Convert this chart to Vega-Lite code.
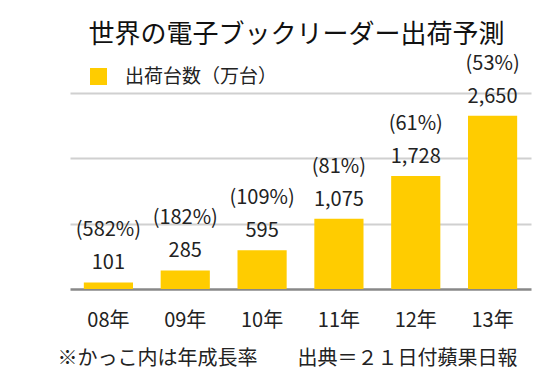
{
  "$schema": "https://vega.github.io/schema/vega-lite/v6.json",
  "width": 461,
  "height": 196,
  "autosize": {"type": "none"},
  "padding": {"left": 70, "top": 93, "right": 25, "bottom": 92},
  "background": "white",
  "config": {
    "font": "Noto Sans CJK JP",
    "view": {"stroke": null}
  },
  "title": {
    "text": "世界の電子ブックリーダー出荷予測",
    "fontSize": 26,
    "fontWeight": "normal",
    "color": "#111111",
    "anchor": "middle",
    "dx": -4,
    "baseline": "middle",
    "frame": "group",
    "offset": -7
  },
  "data": {
    "values": [
      {"year": "08年", "value": 101, "pct": "(582%)", "label": "101"},
      {"year": "09年", "value": 285, "pct": "(182%)", "label": "285"},
      {"year": "10年", "value": 595, "pct": "(109%)", "label": "595"},
      {"year": "11年", "value": 1075, "pct": "(81%)", "label": "1,075"},
      {"year": "12年", "value": 1728, "pct": "(61%)", "label": "1,728"},
      {"year": "13年", "value": 2650, "pct": "(53%)", "label": "2,650"}
    ]
  },
  "encoding": {
    "x": {
      "field": "year",
      "type": "nominal",
      "sort": null,
      "scale": {"paddingInner": 0.36, "paddingOuter": 0.18},
      "axis": {
        "labelAngle": 0,
        "labelFontSize": 20,
        "labelColor": "#222222",
        "labelBaseline": "middle",
        "labelPadding": 31,
        "ticks": false,
        "tickSize": 0,
        "domainColor": "#888888",
        "domainWidth": 2.5,
        "title": "※かっこ内は年成長率　　出典＝２１日付蘋果日報",
        "titleFontSize": 20,
        "titleFontWeight": "normal",
        "titleColor": "#222222",
        "titleX": 217,
        "titleY": 69,
        "titleAlign": "center",
        "titleBaseline": "middle"
      }
    },
    "y": {
      "field": "value",
      "type": "quantitative",
      "scale": {"domain": [0, 3000]},
      "axis": {
        "values": [1000, 2000, 3000],
        "grid": true,
        "gridColor": "#d0d0d0",
        "gridWidth": 2,
        "labels": false,
        "ticks": false,
        "domain": false,
        "title": null
      }
    }
  },
  "layer": [
    {
      "mark": {"type": "bar"},
      "encoding": {
        "color": {
          "datum": "出荷台数（万台）",
          "type": "nominal",
          "scale": {"range": ["#FFCC00"]},
          "legend": {
            "title": null,
            "orient": "none",
            "legendX": 19,
            "legendY": -26,
            "padding": 0,
            "symbolType": "square",
            "symbolSize": 289,
            "symbolStrokeWidth": 0,
            "labelFontSize": 19,
            "labelColor": "#222222",
            "labelOffset": 17
          }
        }
      }
    },
    {
      "mark": {"type": "text", "dy": -19, "baseline": "middle", "fontSize": 20, "color": "#222222"},
      "encoding": {"text": {"field": "label"}}
    },
    {
      "mark": {"type": "text", "dy": -52, "baseline": "middle", "fontSize": 20, "color": "#222222"},
      "encoding": {"text": {"field": "pct"}}
    }
  ]
}
